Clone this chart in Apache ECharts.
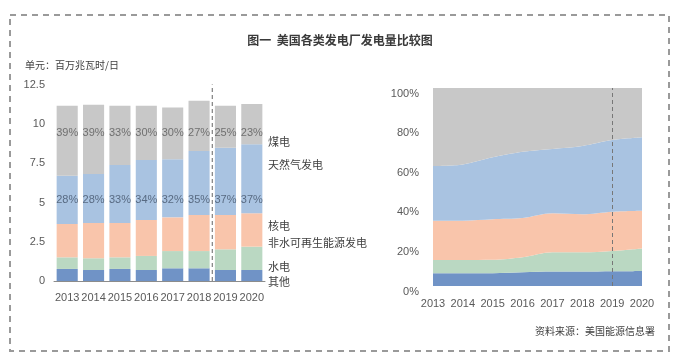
<!DOCTYPE html>
<html><head><meta charset="utf-8">
<script src="https://cdn.jsdelivr.net/npm/echarts@6/dist/echarts.min.js"></script>
<style>html,body{margin:0;padding:0;background:#fff}#c{width:699px;height:362px}</style>
</head><body><div id="c"></div>
<script>
const years = ['2013','2014','2015','2016','2017','2018','2019','2020'];
// Left chart: million MWh per day
const other = [0.77,0.70,0.77,0.70,0.81,0.81,0.70,0.70];
const renew = [0.74,0.75,0.74,0.90,1.10,1.10,1.32,1.49];
const nuclear = [2.13,2.25,2.19,2.29,2.15,2.30,2.19,2.13];
const gas = [3.08,3.12,3.70,3.83,3.70,4.08,4.29,4.40];
const coal = [4.46,4.42,3.78,3.46,3.31,3.21,2.68,2.57];
const coalPct = [39,39,33,30,30,27,25,23];
const gasPct = [28,28,33,34,32,35,37,37];
// Right chart: shares (%)
const otherShare = [6.4,6.4,6.5,7.0,7.3,7.3,7.4,7.6];
const renewShare = [6.7,6.7,6.7,7.5,9.7,9.7,10.3,11.4];
const nuclearShare = [19.9,19.9,20.5,19.8,19.7,19.2,19.8,19.0];
const gasShare = [27.6,28.4,31.3,33.5,32.5,34.5,36.2,37.1];
const coalShare = [39.4,38.6,35.0,32.2,30.8,29.3,26.3,24.9];
const leftTicks = ['0','2.5','5','7.5','10','12.5'];
const legendNames = ['煤电','天然气发电','核电','非水可再生能源发电','水电','其他'];

const FONT = "'Liberation Sans','Noto Sans CJK SC',sans-serif";
const C = {gray:'#c8c8c8', blue:'#a9c3e1', salmon:'#f9c5ab', green:'#bad8c2', dark:'#7093c6'};
const chart = echarts.init(document.getElementById('c'));
const labelY = [142,165,226,243,267,282];

const barSeries = [
  ['其他', other, C.dark], ['水电', renew, C.green], ['核电', nuclear, C.salmon],
  ['天然气发电', gas, C.blue], ['煤电', coal, C.gray]
].map(([n,d,c]) => ({name:n, type:'bar', stack:'a', data:d, xAxisIndex:0, yAxisIndex:0,
  itemStyle:{color:c}, barCategoryGap:'20%', silent:true}));

const areaSeries = [
  ['其他s', otherShare, C.dark], ['水电s', renewShare, C.green], ['核电s', nuclearShare, C.salmon],
  ['天然气s', gasShare, C.blue], ['煤电s', coalShare, C.gray]
].map(([n,d,c]) => ({name:n, type:'line', stack:'b', data:d, xAxisIndex:2, yAxisIndex:2,
  smooth:0.3, symbol:'none', lineStyle:{width:0}, areaStyle:{color:c, opacity:1}, silent:true}));
areaSeries[4].markLine = {symbol:'none', silent:true, label:{show:false},
  lineStyle:{color:'#777', type:[4,3], width:1}, data:[{xAxis:'2019'}]};

const option = {
  animation:false,
  textStyle:{fontFamily:FONT},
  grid:[
    {left:54, right:434, top:85, bottom:81},
    {left:433, right:57, top:88, bottom:76}
  ],
  xAxis:[
    {type:'category', data:years, gridIndex:0, axisTick:{show:false},
     axisLine:{onZero:false, lineStyle:{color:'#8c8c8c'}},
     axisLabel:{interval:0, color:'#595959', fontSize:11, margin:11, fontFamily:FONT}},
    {type:'value', gridIndex:0, min:-0.5, max:7.5, show:false, axisLine:{show:false, onZero:false}},
    {type:'category', data:years, gridIndex:1, boundaryGap:false, axisTick:{show:false},
     axisLine:{show:false, onZero:false},
     axisLabel:{interval:0, color:'#595959', fontSize:11, margin:12, fontFamily:FONT}}
  ],
  yAxis:[
    {type:'value', gridIndex:0, min:0, max:12.5, interval:2.5, splitLine:{show:false},
     axisLine:{show:false, onZero:false}, axisTick:{show:false},
     axisLabel:{color:'#595959', fontSize:11, margin:9, fontFamily:FONT,
       formatter:(v)=>leftTicks[Math.round(v/2.5)]}},
    {type:'value', gridIndex:0, min:0, max:12.5, show:false, axisLine:{show:false, onZero:false}},
    {type:'value', gridIndex:1, min:0, max:100, interval:20, splitLine:{show:false},
     axisLine:{show:false, onZero:false}, axisTick:{show:false},
     axisLabel:{color:'#595959', fontSize:11, margin:14, fontFamily:FONT, formatter:'{value}%',
       verticalAlign:'top'}}
  ],
  series:[
    ...barSeries,
    {type:'scatter', xAxisIndex:0, yAxisIndex:0, symbolSize:0, silent:true,
     data:years.map((y,i)=>[y,9.45]),
     label:{show:true, position:'inside', color:'#595959', fontSize:11, fontFamily:FONT,
       formatter:(p)=>coalPct[p.dataIndex]+'%'}},
    {type:'scatter', xAxisIndex:0, yAxisIndex:0, symbolSize:0, silent:true,
     data:years.map((y,i)=>[y,5.15]),
     label:{show:true, position:'inside', color:'#44546a', fontSize:11, fontFamily:FONT,
       formatter:(p)=>gasPct[p.dataIndex]+'%'}},
    {type:'line', xAxisIndex:1, yAxisIndex:1, symbol:'none', silent:true,
     data:[[5.5,0],[5.5,12.65]], lineStyle:{color:'#666', type:[4,3], width:1}},
    ...areaSeries
  ],
  graphic:[
    {type:'rect', shape:{x:10, y:15, width:659, height:336}, silent:true,
     style:{fill:null, stroke:'#9a9a9a', lineWidth:2, lineDash:[6,5]}},
    {type:'text', x:340, y:40, silent:true, style:{text:'图一  美国各类发电厂发电量比较图', fill:'#3a3a3a',
      font:"bold 12px 'Noto Sans CJK SC'", textAlign:'center', textVerticalAlign:'middle'}},
    {type:'text', x:25, y:65, silent:true, style:{text:'单元：百万兆瓦时/日', fill:'#404040',
      font:"10px 'Noto Sans CJK SC'", textAlign:'left', textVerticalAlign:'middle'}},
    {type:'text', x:655, y:331, silent:true, style:{text:'资料来源：美国能源信息署', fill:'#404040',
      font:"10px 'Noto Sans CJK SC'", textAlign:'right', textVerticalAlign:'middle'}},
    ...legendNames.map((n,i)=>({type:'text', x:268, y:labelY[i], silent:true,
      style:{text:n, fill:'#404040', font:"11px 'Noto Sans CJK SC'", textAlign:'left', textVerticalAlign:'middle'}}))
  ]
};
chart.setOption(option);
</script></body></html>
